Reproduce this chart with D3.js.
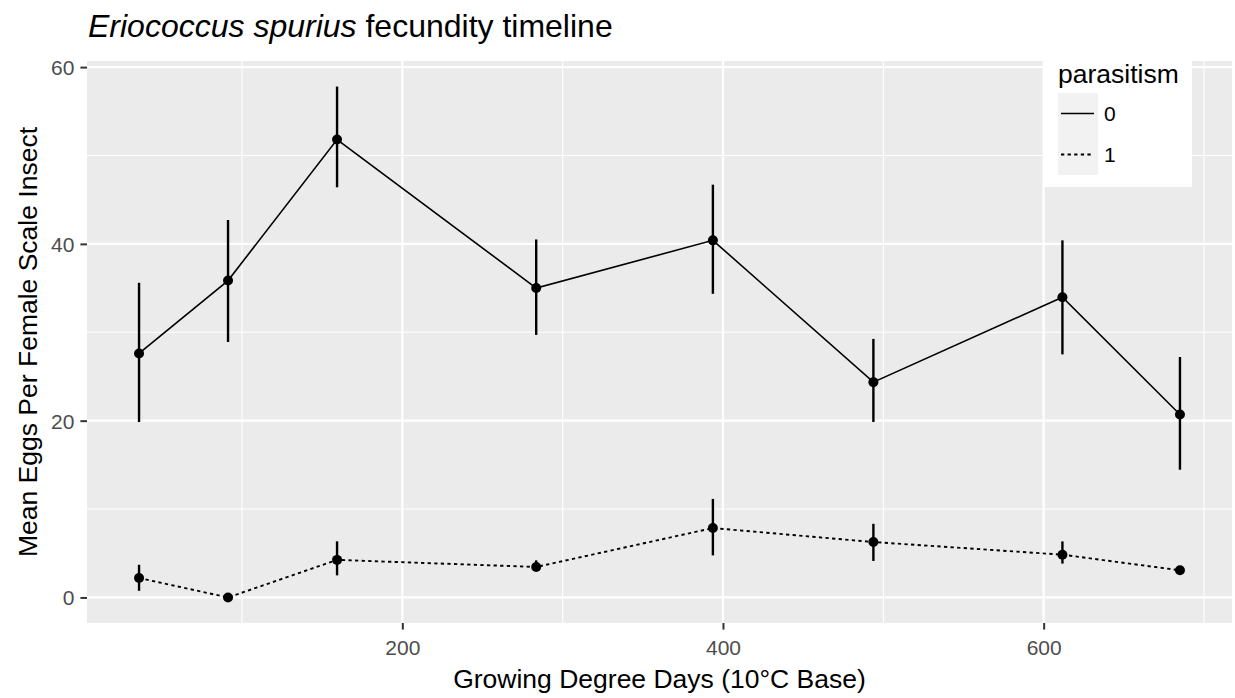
<!DOCTYPE html>
<html>
<head>
<meta charset="utf-8">
<script src="https://cdn.jsdelivr.net/npm/d3@7"></script>
<style>
    body { margin: 0; background: #fff; }
    svg { display: block; font-family: 'Liberation Sans', Arial, sans-serif; }
</style>
</head>
<body>
<script>
// Data
const gdd = [35.8, 91.3, 159.3, 283.5, 393.7, 493.8, 611.7, 685];
const mean0 = [27.6, 35.85, 51.8, 35.0, 40.4, 24.36, 33.97, 20.7];
const lo0 = [19.85, 28.9, 46.4, 29.7, 34.35, 19.85, 27.5, 14.45];
const hi0 = [35.6, 42.7, 57.8, 40.5, 46.7, 29.25, 40.4, 27.2];
const mean1 = [2.2, 0, 4.25, 3.45, 7.85, 6.27, 4.84, 3.07];
const lo1 = [0.75, 0, 2.5, 3.0, 4.76, 4.13, 3.83, 2.9];
const hi1 = [3.7, 0, 6.35, 4.2, 11.15, 8.33, 6.34, 3.3];
const groups = ['0', '1'];
const xMajor = [200, 400, 600];
const xMinor = [100, 300, 500, 700];
const yMajor = [0, 20, 40, 60];
const yMinor = [10, 30, 50];

const width = 1235,
    height = 698;
const panel = { left: 87, right: 1232, top: 61, bottom: 623 };

const series = groups.map((g, i) => ({
    key: g,
    dash: i === 0 ? null : '3.3,3.3',
    lw: i === 0 ? 1.6 : 1.9,
    values: gdd.map((x, j) => ({
        x: x,
        y: i === 0 ? mean0[j] : mean1[j],
        lo: i === 0 ? lo0[j] : lo1[j],
        hi: i === 0 ? hi0[j] : hi1[j]
    }))
}));

// ggplot style 5% expansion
function expand(lo, hi) {
    const pad = (hi - lo) * 0.05;
    return [lo - pad, hi + pad];
}

const allY = series.flatMap(s => s.values.flatMap(d => [d.lo, d.hi, d.y]));
const x = d3.scaleLinear().domain(expand(d3.min(gdd), d3.max(gdd))).range([panel.left, panel.right]);
const y = d3.scaleLinear().domain(expand(d3.min(allY), d3.max(allY))).range([panel.bottom, panel.top]);

let svg = d3
    .select('body')
    .append('svg')
    .attr('width', width)
    .attr('height', height);

// Panel background
svg.append('rect')
    .attr('x', panel.left)
    .attr('y', panel.top)
    .attr('width', panel.right - panel.left)
    .attr('height', panel.bottom - panel.top)
    .attr('fill', '#EBEBEB');

// Grid lines
let grid = svg.append('g');
grid.selectAll('.ymin').data(yMinor).enter().append('line')
    .attr('x1', panel.left).attr('x2', panel.right)
    .attr('y1', d => y(d)).attr('y2', d => y(d))
    .attr('stroke', '#fff').attr('stroke-width', 1.1);
grid.selectAll('.xmin').data(xMinor).enter().append('line')
    .attr('y1', panel.top).attr('y2', panel.bottom)
    .attr('x1', d => x(d)).attr('x2', d => x(d))
    .attr('stroke', '#fff').attr('stroke-width', 1.1);
grid.selectAll('.ymaj').data(yMajor).enter().append('line')
    .attr('x1', panel.left).attr('x2', panel.right)
    .attr('y1', d => y(d)).attr('y2', d => y(d))
    .attr('stroke', '#fff').attr('stroke-width', 2.2);
grid.selectAll('.xmaj').data(xMajor).enter().append('line')
    .attr('y1', panel.top).attr('y2', panel.bottom)
    .attr('x1', d => x(d)).attr('x2', d => x(d))
    .attr('stroke', '#fff').attr('stroke-width', 2.2);

// Axes
let yAxis = svg.append('g')
    .attr('transform', `translate(${panel.left}, 0)`)
    .call(d3.axisLeft(y).tickValues(yMajor).tickSize(6.6).tickPadding(6));
let xAxis = svg.append('g')
    .attr('transform', `translate(0, ${panel.bottom})`)
    .call(d3.axisBottom(x).tickValues(xMajor).tickSize(6.6).tickPadding(6));

[yAxis, xAxis].forEach(a => {
    a.select('.domain').remove();
    a.selectAll('.tick line').attr('stroke', '#333333').attr('stroke-width', 2);
    a.selectAll('.tick text')
        .attr('fill', '#4D4D4D')
        .style('font-family', "'Liberation Sans', Arial, sans-serif")
        .style('font-size', '21px');
});
yAxis.selectAll('.tick text').attr('dy', '0.35em');
xAxis.selectAll('.tick text').attr('dy', '0.9em');

// Lines, error bars and points
const line = d3.line().x(d => x(d.x)).y(d => y(d.y));
let groupsG = svg.selectAll('.series').data(series).enter().append('g');

groupsG.append('path')
    .attr('d', d => line(d.values))
    .attr('fill', 'none')
    .attr('stroke', '#000')
    .attr('stroke-width', d => d.lw)
    .attr('stroke-dasharray', d => d.dash);

groupsG.selectAll('.err').data(d => d.values).enter().append('line')
    .attr('x1', d => x(d.x)).attr('x2', d => x(d.x))
    .attr('y1', d => y(d.lo)).attr('y2', d => y(d.hi))
    .attr('stroke', '#000')
    .attr('stroke-width', 2.4);

groupsG.selectAll('circle').data(d => d.values).enter().append('circle')
    .attr('cx', d => x(d.x))
    .attr('cy', d => y(d.y))
    .attr('r', 5)
    .attr('fill', '#000');

// Legend
let legend = svg.append('g').attr('transform', 'translate(1043, 60)');
legend.append('rect').attr('width', 149).attr('height', 127).attr('fill', '#fff');
legend.append('text')
    .attr('x', 15).attr('y', 23)
    .style('font-size', '26.5px')
    .text('parasitism');
let keys = legend.selectAll('.key').data(series).enter().append('g')
    .attr('transform', (d, i) => `translate(15, ${33 + i * 41})`);
keys.append('rect').attr('width', 40).attr('height', 41).attr('fill', '#F2F2F2');
keys.append('line')
    .attr('x1', 3).attr('x2', 36).attr('y1', 20.5).attr('y2', 20.5)
    .attr('stroke', '#000').attr('stroke-width', d => d.lw)
    .attr('stroke-dasharray', d => d.dash);
keys.append('text')
    .attr('x', 46).attr('y', 20.5).attr('dy', '0.35em')
    .style('font-size', '21px')
    .text(d => d.key);

// Titles
let title = svg.append('text')
    .attr('x', 88).attr('y', 37)
    .style('font-size', '32px');
title.append('tspan').style('font-style', 'italic').text('Eriococcus spurius');
title.append('tspan').text(' fecundity timeline');

svg.append('text')
    .attr('text-anchor', 'middle')
    .attr('x', (panel.left + panel.right) / 2)
    .attr('y', 688)
    .style('font-size', '26.5px')
    .text('Growing Degree Days (10°C Base)');

svg.append('text')
    .attr('text-anchor', 'middle')
    .attr('transform', `translate(37, ${(panel.top + panel.bottom) / 2}) rotate(-90)`)
    .style('font-size', '26.5px')
    .text('Mean Eggs Per Female Scale Insect');
</script>
</body>
</html>
